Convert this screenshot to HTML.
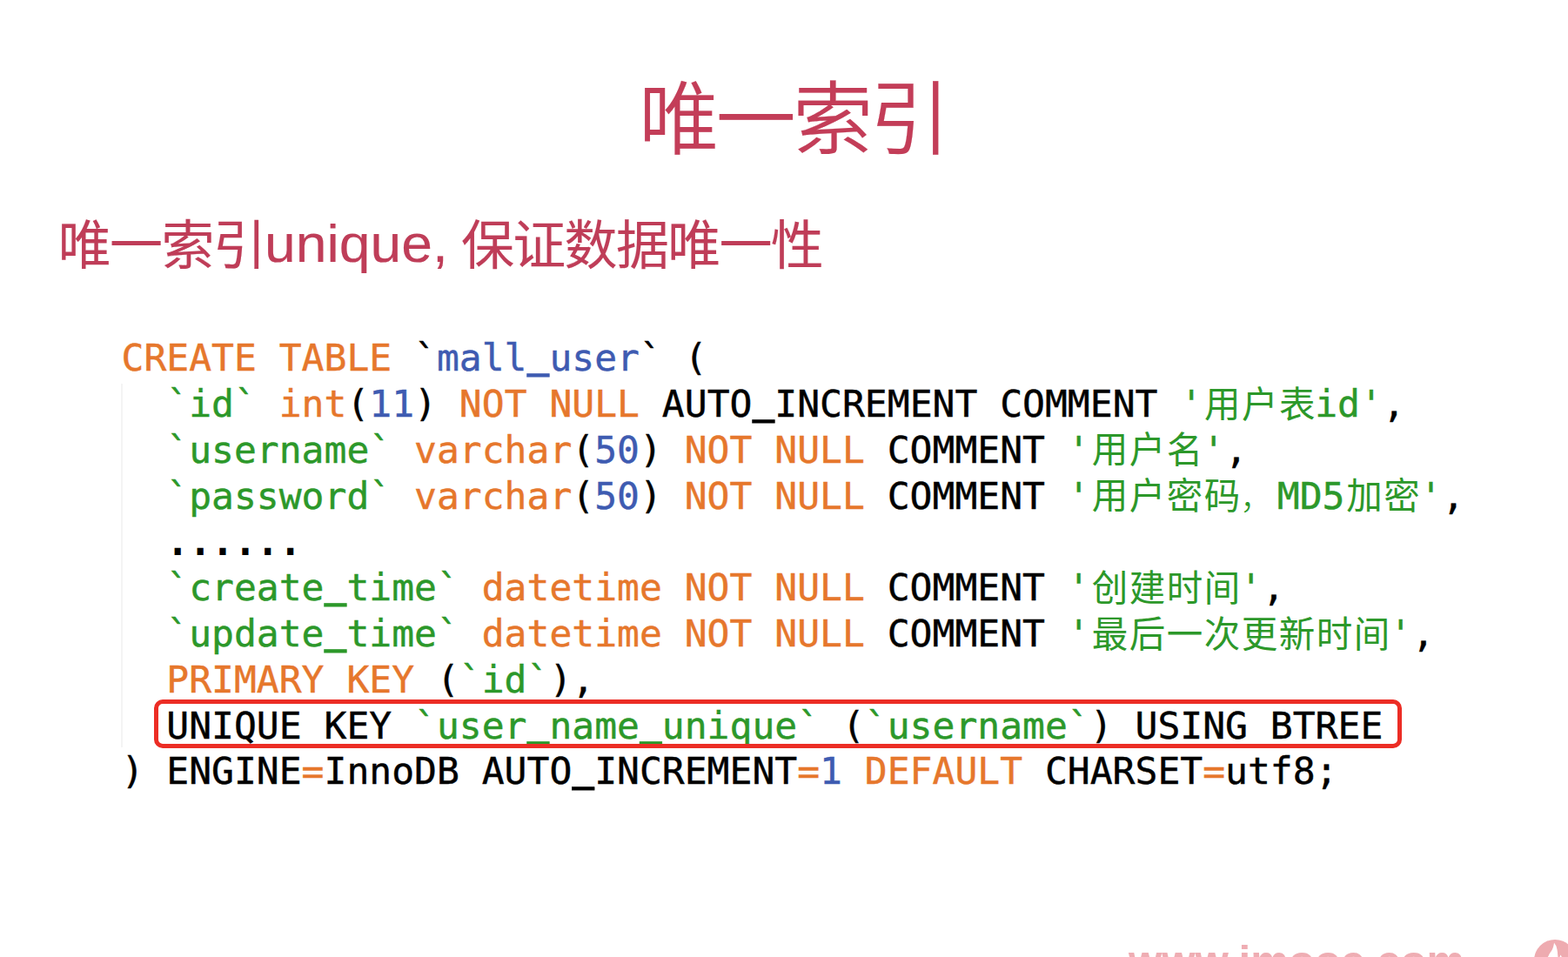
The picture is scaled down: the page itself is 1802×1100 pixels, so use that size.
<!DOCTYPE html>
<html lang="zh-CN">
<head>
<meta charset="utf-8">
<title>唯一索引</title>
<style>
html,body{margin:0;padding:0;}
body{width:1802px;height:1100px;overflow:hidden;background:#fff;position:relative;
  font-family:"Liberation Sans","Noto Sans CJK SC",sans-serif;}
.subline{margin:0;}
.title{margin:0;position:absolute;left:0;top:83.2px;width:1822.4px;-webkit-text-stroke:0.2px currentColor;text-align:center;
  font-size:92px;line-height:110px;letter-spacing:-3.5px;color:#c33d58;font-weight:350;white-space:nowrap;}
.sub{position:absolute;top:244.6px;font-size:61px;line-height:76px;letter-spacing:-1.7px;color:#bf3d58;-webkit-text-stroke:0.15px currentColor;white-space:nowrap;}
.sub.s1{left:66.8px;}
.sub.s2{left:304px;font-size:61.2px;letter-spacing:0;transform:scaleX(1.05);transform-origin:0 0;top:242.2px;}
.sub.s3{left:530px;}
.code{position:absolute;left:139.5px;top:385.2px;margin:0;
  font-family:"DejaVu Sans Mono","Noto Sans CJK SC",monospace;
  font-size:43px;line-height:52.8px;color:#000;white-space:pre;
  -webkit-text-stroke:0.45px currentColor;}
.code .l{display:block;height:52.8px;}
.u{display:inline-block;line-height:52.8px;vertical-align:baseline;transform-origin:50% 49.4px;transform:translateY(-4.7px) scaleY(1.9);}
.d{-webkit-text-stroke:1.8px currentColor;position:relative;top:-0.5px;}
.k{color:#e6772c}.b{color:#3e5bb1}.g{color:#2c982a}
.c{font-family:"Noto Sans CJK SC",sans-serif;line-height:0;-webkit-text-stroke:0;font-size:41.5px;letter-spacing:1.5px;position:relative;left:1.9px;top:0.6px;}
.fc{font-weight:300;font-size:38px;letter-spacing:5px;position:relative;left:-1.5px;}
.guide{position:absolute;left:139.4px;top:441px;width:2px;height:418px;background:#f4f4f4;}
.box{position:absolute;left:177px;top:804px;width:1434.4px;height:56.4px;box-sizing:border-box;border:5.4px solid #ec2d25;border-radius:10px;}
.wm{position:absolute;left:1297px;top:1076.7px;font-size:49.2px;line-height:56px;font-weight:bold;color:#efadb3;white-space:nowrap;}
.logo{position:absolute;left:1762.5px;top:1080px;width:48px;height:48px;}
</style>
</head>
<body>
<h1 class="title">唯一索引</h1>
<p class="subline"><span class="sub s1">唯一索引</span><span class="sub s2">unique, </span><span class="sub s3">保证数据唯一性</span></p>
<div class="guide"></div>
<pre class="code"><span class="l"><span class="k">CREATE TABLE</span> `<span class="b">mall<span class="u">_</span>user</span>` (</span><span class="l">  <span class="g">`id`</span> <span class="k">int</span>(<span class="b">11</span>) <span class="k">NOT NULL</span> AUTO<span class="u">_</span>INCREMENT COMMENT <span class="g">'<span class="c">用户表</span>id'</span>,</span><span class="l">  <span class="g">`username`</span> <span class="k">varchar</span>(<span class="b">50</span>) <span class="k">NOT NULL</span> COMMENT <span class="g">'<span class="c">用户名</span>'</span>,</span><span class="l">  <span class="g">`password`</span> <span class="k">varchar</span>(<span class="b">50</span>) <span class="k">NOT NULL</span> COMMENT <span class="g">'<span class="c">用户密码<span class="fc">，</span></span>MD5<span class="c">加密</span>'</span>,</span><span class="l">  <span class="d">......</span></span><span class="l">  <span class="g">`create<span class="u">_</span>time`</span> <span class="k">datetime NOT NULL</span> COMMENT <span class="g">'<span class="c">创建时间</span>'</span>,</span><span class="l">  <span class="g">`update<span class="u">_</span>time`</span> <span class="k">datetime NOT NULL</span> COMMENT <span class="g">'<span class="c">最后一次更新时间</span>'</span>,</span><span class="l">  <span class="k">PRIMARY KEY</span> (<span class="g">`id`</span>),</span><span class="l">  UNIQUE KEY <span class="g">`user<span class="u">_</span>name<span class="u">_</span>unique`</span> (<span class="g">`username`</span>) USING BTREE</span><span class="l">) ENGINE<span class="k">=</span>InnoDB AUTO<span class="u">_</span>INCREMENT<span class="k">=</span><span class="b">1</span> <span class="k">DEFAULT</span> CHARSET<span class="k">=</span>utf8;</span></pre>
<div class="box"></div>
<div class="wm">www.imooc.com</div>
<svg class="logo" viewBox="0 0 48 48">
  <circle cx="24" cy="24" r="24" fill="#eeabb0"/>
  <path d="M23.1 3.5 C23.9 5.5 25 6.5 25.15 6.65 C25.7 8 26 9 26.12 10 C26.5 11 26.7 12.3 26.8 13.3 C27 14.5 27.1 15.6 27.12 16.64 L27.45 20 L27.6 48 L8 48 C9 34 13 26 15.8 20 C16.4 18.8 17 17.7 17.46 16.64 C18.3 15.4 19.1 14.3 19.8 13.3 C20.5 12.2 21 11.1 21.46 10 C21.9 8.9 22.2 7.8 22.46 6.65 C22.7 5.6 22.9 4.6 23.1 3.5 Z" fill="#fff"/>
  <path d="M30.45 17.5 C31 18.3 31.4 19.1 31.78 20 C32.6 21.5 33 23 33 25 L33 48 L28.6 48 L29.45 20 C29.9 19.2 30.2 18.4 30.45 17.5 Z" fill="#fff"/>
</svg>
</body>
</html>
